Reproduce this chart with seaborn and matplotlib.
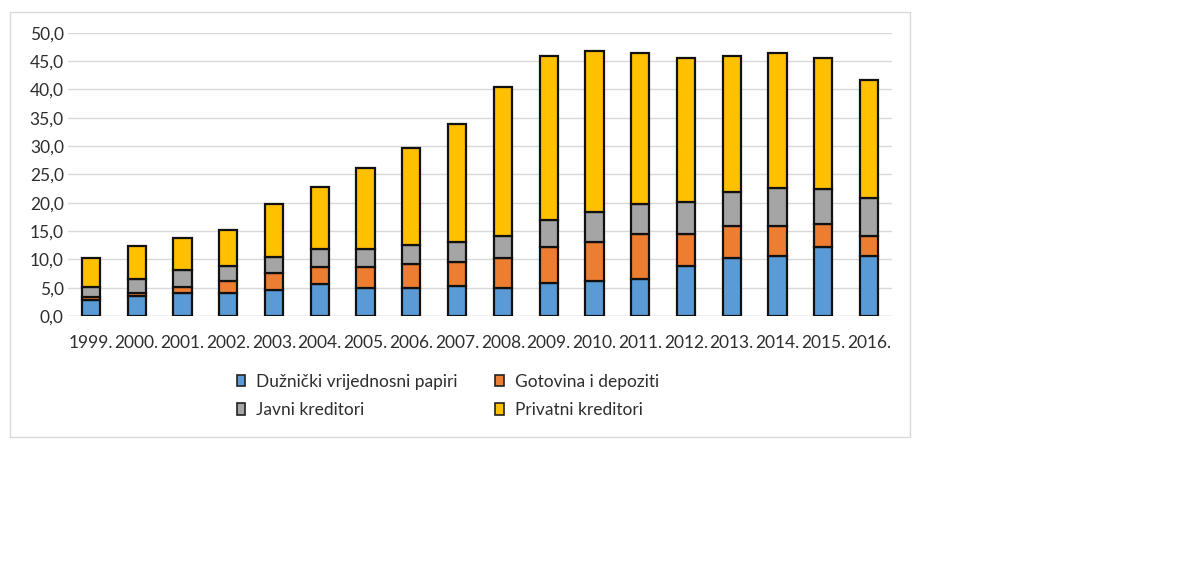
import matplotlib
matplotlib.use("Agg")
import matplotlib.pyplot as plt
import matplotlib.patches as mpatches
import seaborn as sns
import pandas as pd
import numpy as np

# Podaci (mlrd., očitano s grafikona)
godine = ["1999.", "2000.", "2001.", "2002.", "2003.", "2004.", "2005.", "2006.", "2007.",
          "2008.", "2009.", "2010.", "2011.", "2012.", "2013.", "2014.", "2015.", "2016."]
duznicki = [2.8, 3.5, 4.1, 4.1, 4.6, 5.6, 4.9, 4.9, 5.3, 4.9, 5.9, 6.2, 6.6, 8.8, 10.2, 10.6, 12.1, 10.6]
gotovina = [0.6, 0.5, 1.1, 2.1, 3.0, 3.1, 3.8, 4.2, 4.2, 5.3, 6.3, 6.8, 7.8, 5.7, 5.7, 5.3, 4.1, 3.5]
javni = [1.8, 2.6, 2.9, 2.6, 2.9, 3.2, 3.2, 3.5, 3.5, 3.9, 4.7, 5.4, 5.3, 5.7, 6.0, 6.7, 6.3, 6.7]
privatni = [5.0, 5.75, 5.6, 6.4, 9.2, 10.9, 14.2, 17.0, 20.8, 26.4, 28.9, 28.4, 26.8, 25.3, 23.9, 23.9, 23.0, 20.8]

serije = ["Dužnički vrijednosni papiri", "Gotovina i depoziti", "Javni kreditori", "Privatni kreditori"]
boje = ["#5B9BD5", "#ED7D31", "#A5A5A5", "#FFC000"]

sns.set_style("white")
plt.rcParams["font.family"] = ["Lato", "DejaVu Sans"]

W, H = 1193, 568
fig = plt.figure(figsize=(W / 100, H / 100), dpi=100)

# okvir grafikona
fig.patches.append(mpatches.Rectangle((10 / W, 1 - 437 / H), 900 / W, 425 / H,
                                      transform=fig.transFigure, fill=False,
                                      edgecolor="#D9D9D9", lw=1))

ax = fig.add_axes([68 / W, 1 - 316 / H, 824 / W, (316 - 32.7) / H])

df = pd.DataFrame({"godina": godine, serije[0]: duznicki, serije[1]: gotovina,
                   serije[2]: javni, serije[3]: privatni})

dno = np.zeros(len(godine))
for s, c in zip(serije, boje):
    sns.barplot(data=df, x="godina", y=s, order=godine, color=c, saturation=1,
                bottom=dno, width=0.4, edgecolor="#111111", linewidth=1.6,
                ax=ax, zorder=3)
    dno = dno + df[s].values

ax.set_ylim(0, 50)
ax.set_yticks(np.arange(0, 51, 5))
ax.set_yticklabels([f"{v:.1f}".replace(".", ",") for v in np.arange(0, 51, 5)])
ax.yaxis.grid(True, color="#D9D9D9", lw=1, zorder=0)
ax.xaxis.grid(False)
for sp in ax.spines.values():
    sp.set_visible(False)
ax.axhline(0, color="#D9D9D9", lw=1, zorder=1)
ax.tick_params(axis="both", length=0, labelsize=12.5, colors="#2e2e2e")
ax.tick_params(axis="y", pad=3)
ax.tick_params(axis="x", pad=14)
ax.set_xlabel("")
ax.set_ylabel("")

rucke = [mpatches.Patch(facecolor=c, edgecolor="#222222", lw=1.2, label=s) for s, c in zip(serije, boje)]
# redoslijed: red 1 = duznicki, gotovina; red 2 = javni, privatni
rucke = [rucke[0], rucke[2], rucke[1], rucke[3]]
fig.legend(handles=rucke, ncol=2, loc="upper left", bbox_to_anchor=(221 / W, 1 - 358 / H),
           frameon=False, fontsize=12.5, handlelength=0.5, handleheight=0.65,
           handletextpad=0.6, columnspacing=2.2, labelspacing=0.72,
           labelcolor="#2e2e2e")

fig.savefig("out.png", dpi=100, facecolor="white")
